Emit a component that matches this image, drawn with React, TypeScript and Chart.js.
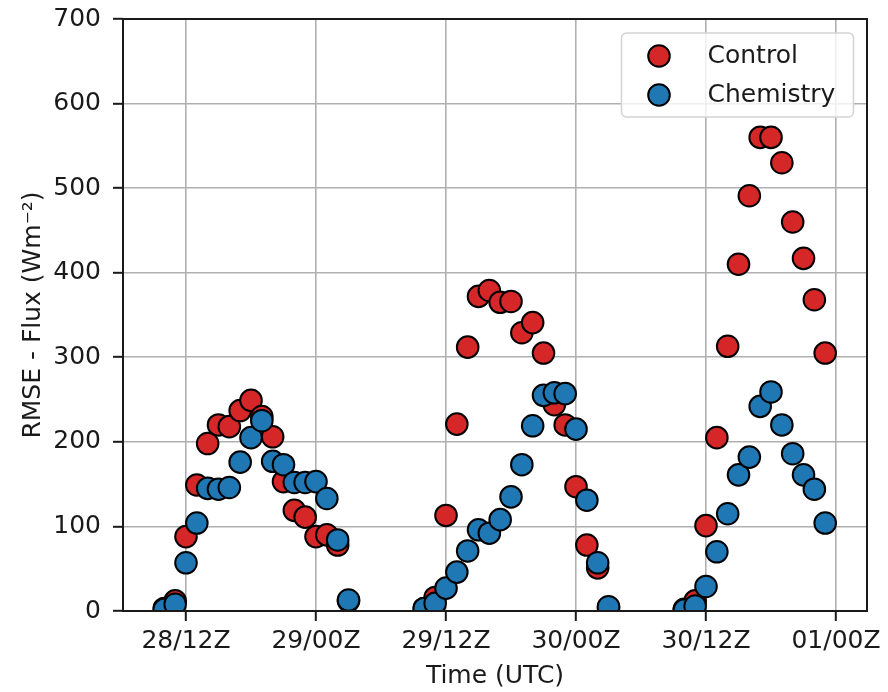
import React, { useEffect, useRef } from 'react';
import { Chart, registerables } from 'chart.js';

Chart.register(...registerables);

// Hours relative to 28/12Z
const hours = [
  -2, -1, 0, 1, 2, 3, 4, 5, 6, 7, 8, 9, 10, 11, 12, 13, 14, 15,
  22, 23, 24, 25, 26, 27, 28, 29, 30, 31, 32, 33, 34, 35, 36, 37, 38, 39,
  46, 47, 48, 49, 50, 51, 52, 53, 54, 55, 56, 57, 58, 59,
];

const controlValues = [
  3, 12, 88, 149, 198, 220, 218, 237, 249, 230, 206, 153, 119, 111, 88, 90, 78, 12,
  3, 16, 113, 221, 312, 372, 379, 365, 366, 329, 341, 305, 244, 220, 147, 78, 51, 4,
  2, 12, 101, 205, 313, 410, 491, 560, 560, 530, 460, 417, 368, 305,
];

const chemistryValues = [
  2, 8, 57, 104, 145, 144, 146, 176, 205, 225, 177, 173, 152, 152, 153, 133, 84, 13,
  3, 9, 27, 46, 71, 96, 92, 108, 135, 173, 219, 255, 258, 257, 215, 131, 57, 5,
  1, 6, 29, 70, 115, 161, 182, 242, 259, 220, 186, 161, 144, 104,
];

const xTickHours = [0, 12, 24, 36, 48, 60];
const xTickLabels = ['28/12Z', '29/00Z', '29/12Z', '30/00Z', '30/12Z', '01/00Z'];
const yTickValues = [0, 100, 200, 300, 400, 500, 600, 700];
const seriesNames = ['Control', 'Chemistry'];
const seriesColors = ['#d62728', '#1f77b4'];
const xTitle = 'Time (UTC)';
const yTitle = 'RMSE - Flux (Wm\u207B\u00B2)';

const FONT = 'DejaVu Sans';
const TEXT = '#1a1a1a';
const PR = 10.8;

const framePlugin = {
  id: 'frameAndLegend',
  afterDatasetsDraw(chart: any) {
    const { ctx, chartArea: a } = chart;
    ctx.save();
    ctx.strokeStyle = TEXT;
    ctx.lineWidth = 2;
    ctx.strokeRect(a.left, a.top, a.right - a.left, a.bottom - a.top);

    // legend
    const bw = 232;
    const bh = 84;
    const bx = a.right - 13.5 - bw;
    const by = a.top + 14;
    const r = 5;
    ctx.beginPath();
    ctx.moveTo(bx + r, by);
    ctx.lineTo(bx + bw - r, by);
    ctx.arcTo(bx + bw, by, bx + bw, by + r, r);
    ctx.lineTo(bx + bw, by + bh - r);
    ctx.arcTo(bx + bw, by + bh, bx + bw - r, by + bh, r);
    ctx.lineTo(bx + r, by + bh);
    ctx.arcTo(bx, by + bh, bx, by + bh - r, r);
    ctx.lineTo(bx, by + r);
    ctx.arcTo(bx, by, bx + r, by, r);
    ctx.closePath();
    ctx.fillStyle = 'rgba(255,255,255,0.8)';
    ctx.fill();
    ctx.strokeStyle = '#d3d3d3';
    ctx.lineWidth = 1.5;
    ctx.stroke();

    const rows = [by + 23, by + 62];
    seriesNames.forEach((name, i) => {
      const cy = rows[i];
      ctx.beginPath();
      ctx.arc(bx + 37.5, cy, PR, 0, Math.PI * 2);
      ctx.fillStyle = seriesColors[i];
      ctx.fill();
      ctx.lineWidth = 2;
      ctx.strokeStyle = '#000';
      ctx.stroke();
      ctx.fillStyle = TEXT;
      ctx.font = `25px "${FONT}"`;
      ctx.textAlign = 'left';
      ctx.textBaseline = 'alphabetic';
      ctx.fillText(name, bx + 86, cy + 7);
    });
    ctx.restore();
  },
};

const zeroPad = (s: any) => {
  s.paddingTop = 0;
  s.paddingBottom = 0;
  s.paddingLeft = 0;
  s.paddingRight = 0;
};

export default function App() {
  const ref = useRef<HTMLCanvasElement | null>(null);

  useEffect(() => {
    if (!ref.current) return;
    const mk = (vals: number[]) => hours.map((h, i) => ({ x: h, y: vals[i] }));
    const chart = new Chart(ref.current, {
      type: 'scatter',
      data: {
        datasets: [
          {
            label: seriesNames[0],
            data: mk(controlValues),
            backgroundColor: seriesColors[0],
            borderColor: '#000',
            borderWidth: 2,
            pointRadius: PR,
            clip: 0,
            order: 2,
          },
          {
            label: seriesNames[1],
            data: mk(chemistryValues),
            backgroundColor: seriesColors[1],
            borderColor: '#000',
            borderWidth: 2,
            pointRadius: PR,
            clip: 0,
            order: 1,
          },
        ],
      },
      options: {
        responsive: false,
        maintainAspectRatio: false,
        devicePixelRatio: 1,
        animation: false,
        events: [],
        layout: { padding: { top: 19, right: 21, left: 0, bottom: 0 } },
        plugins: { legend: { display: false }, tooltip: { enabled: false } },
        scales: {
          x: {
            type: 'linear',
            min: -5.815,
            max: 62.86,
            afterBuildTicks: (s: any) => {
              s.ticks = xTickHours.map((v) => ({ value: v }));
            },
            afterFit: (s: any) => {
              s.height = 81;
              zeroPad(s);
            },
            ticks: {
              font: { family: FONT, size: 25 },
              color: TEXT,
              padding: 5,
              maxRotation: 0,
              autoSkip: false,
              callback: (v: any) => {
                const i = xTickHours.indexOf(Number(v));
                return i >= 0 ? xTickLabels[i] : '';
              },
            },
            grid: {
              color: '#b0b0b0',
              lineWidth: 1.6,
              tickColor: TEXT,
              tickWidth: 2,
              tickLength: 10,
            },
            border: { display: false },
            title: {
              display: true,
              text: xTitle,
              font: { family: FONT, size: 25 },
              color: TEXT,
              padding: { top: 0, bottom: 1 },
            },
          },
          y: {
            type: 'linear',
            min: 0,
            max: 700,
            afterBuildTicks: (s: any) => {
              s.ticks = yTickValues.map((v) => ({ value: v }));
            },
            afterFit: (s: any) => {
              s.width = 123;
              zeroPad(s);
            },
            ticks: {
              font: { family: FONT, size: 25 },
              color: TEXT,
              padding: 12,
            },
            grid: {
              color: '#b0b0b0',
              lineWidth: 1.6,
              tickColor: TEXT,
              tickWidth: 2,
              tickLength: 10,
            },
            border: { display: false },
            title: {
              display: true,
              text: yTitle,
              font: { family: FONT, size: 25 },
              color: TEXT,
              padding: { top: 18, bottom: 0 },
            },
          },
        },
      },
      plugins: [framePlugin],
    } as any);
    return () => chart.destroy();
  }, []);

  return (
    <div style={{ position: 'absolute', left: 0, top: 0, width: 888, height: 692, background: '#fff' }}>
      <canvas ref={ref} width={888} height={692} style={{ display: 'block' }} />
    </div>
  );
}
